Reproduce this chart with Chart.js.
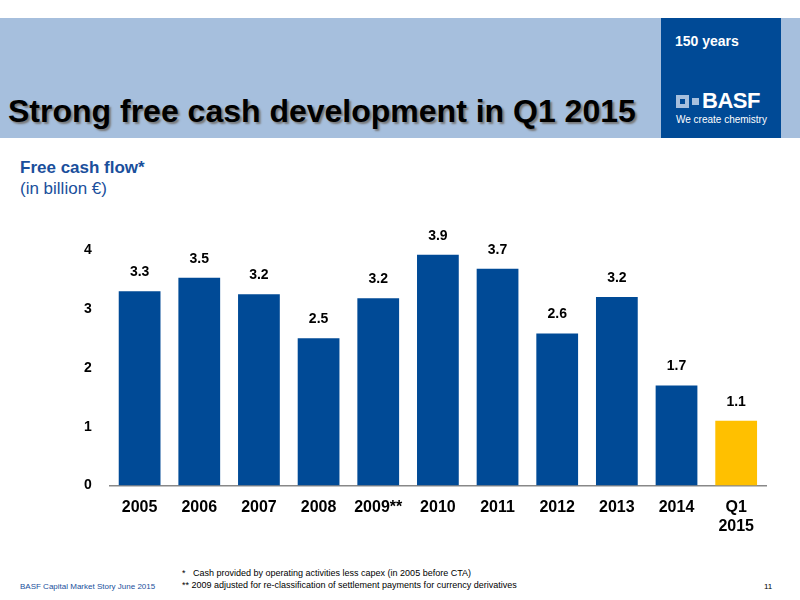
<!DOCTYPE html><html><head><meta charset="utf-8">
<script src="https://cdn.jsdelivr.net/npm/chart.js@4"></script>
<style>
body{margin:0;width:800px;height:600px;position:relative;font-family:"Liberation Sans",Arial,sans-serif;background:#fff;overflow:hidden}
.band{position:absolute;left:0;top:18px;width:800px;height:120px;background:#a6bfdd}
.logo{position:absolute;left:661px;top:18px;width:120px;height:120px;background:#004a96;color:#fff}
.t{position:absolute;left:8px;top:93px;font-size:32px;font-weight:bold;color:#000;text-shadow:2px 2px 2px #777}
#wrap{position:absolute;left:66px;top:200px;width:710px;height:340px}
</style></head><body>
<div class="band"></div>
<div class="logo">
<div style="position:absolute;left:14px;top:15px;font-size:14px;font-weight:bold">150 years</div>
<div style="position:absolute;left:15px;top:77px;width:13px;height:13px;background:#a6bfdd;border:0"></div>
<div style="position:absolute;left:19px;top:81px;width:5px;height:5px;background:#004a96"></div>
<div style="position:absolute;left:31px;top:80px;width:7px;height:7px;background:#a6bfdd"></div>
<div style="position:absolute;left:41px;top:70px;font-size:22px;font-weight:bold;letter-spacing:-0.5px">BASF</div>
<div style="position:absolute;left:15px;top:96px;font-size:10px">We create chemistry</div>
</div>
<div class="t">Strong free cash development in Q1 2015</div>
<div style="position:absolute;left:20px;top:158px;font-size:17px;font-weight:bold;color:#1a4f9c">Free cash flow*</div>
<div style="position:absolute;left:20px;top:179px;font-size:17px;color:#1a4f9c">(in billion €)</div>
<div id="wrap"><canvas id="c"></canvas></div>
<div style="position:absolute;left:182px;top:567px;font-size:9px;color:#000;line-height:12px">*&nbsp;&nbsp;&nbsp;Cash provided by operating activities less capex (in 2005 before CTA)<br>**&nbsp;2009 adjusted for re-classification of settlement payments for currency derivatives</div>
<div style="position:absolute;left:20px;top:582px;font-size:8px;color:#1a4f9c">BASF Capital Market Story June 2015</div>
<div style="position:absolute;left:764px;top:582px;font-size:8px;color:#000">11</div>
<script>
const categories=["2005","2006","2007","2008","2009**","2010","2011","2012","2013","2014",["Q1","2015"]];
const values=[3.3,3.53,3.25,2.5,3.18,3.92,3.68,2.58,3.2,1.7,1.1];
const labels=["3.3","3.5","3.2","2.5","3.2","3.9","3.7","2.6","3.2","1.7","1.1"];
const colors=values.map((v,i)=>i===10?"#ffc000":"#004a96");
const lbl={id:"lbl",afterDatasetsDraw(ch){const c=ch.ctx;c.save();c.font="bold 14px 'Liberation Sans',Arial";c.fillStyle="#000";c.textAlign="center";c.textBaseline="bottom";
ch.getDatasetMeta(0).data.forEach((b,i)=>c.fillText(labels[i],b.x,b.y-12));c.restore();}};
new Chart(document.getElementById("c"),{type:"bar",data:{labels:categories,datasets:[{data:values,backgroundColor:colors,categoryPercentage:1,barPercentage:0.7}]},
options:{responsive:true,maintainAspectRatio:false,animation:false,layout:{padding:{top:0,right:10}},
plugins:{legend:{display:false},tooltip:{enabled:false}},
scales:{y:{min:0,max:4.4,afterBuildTicks(a){a.ticks=[0,1,2,3,4].map(v=>({value:v}));},grid:{display:false,drawTicks:false},border:{display:false},ticks:{color:"#000",font:{size:14,weight:"bold"},padding:18}},
x:{grid:{display:false},border:{color:"#888",width:1.5},ticks:{color:"#000",font:{size:16,weight:"bold"},padding:4}}}},plugins:[lbl]});
</script></body></html>
